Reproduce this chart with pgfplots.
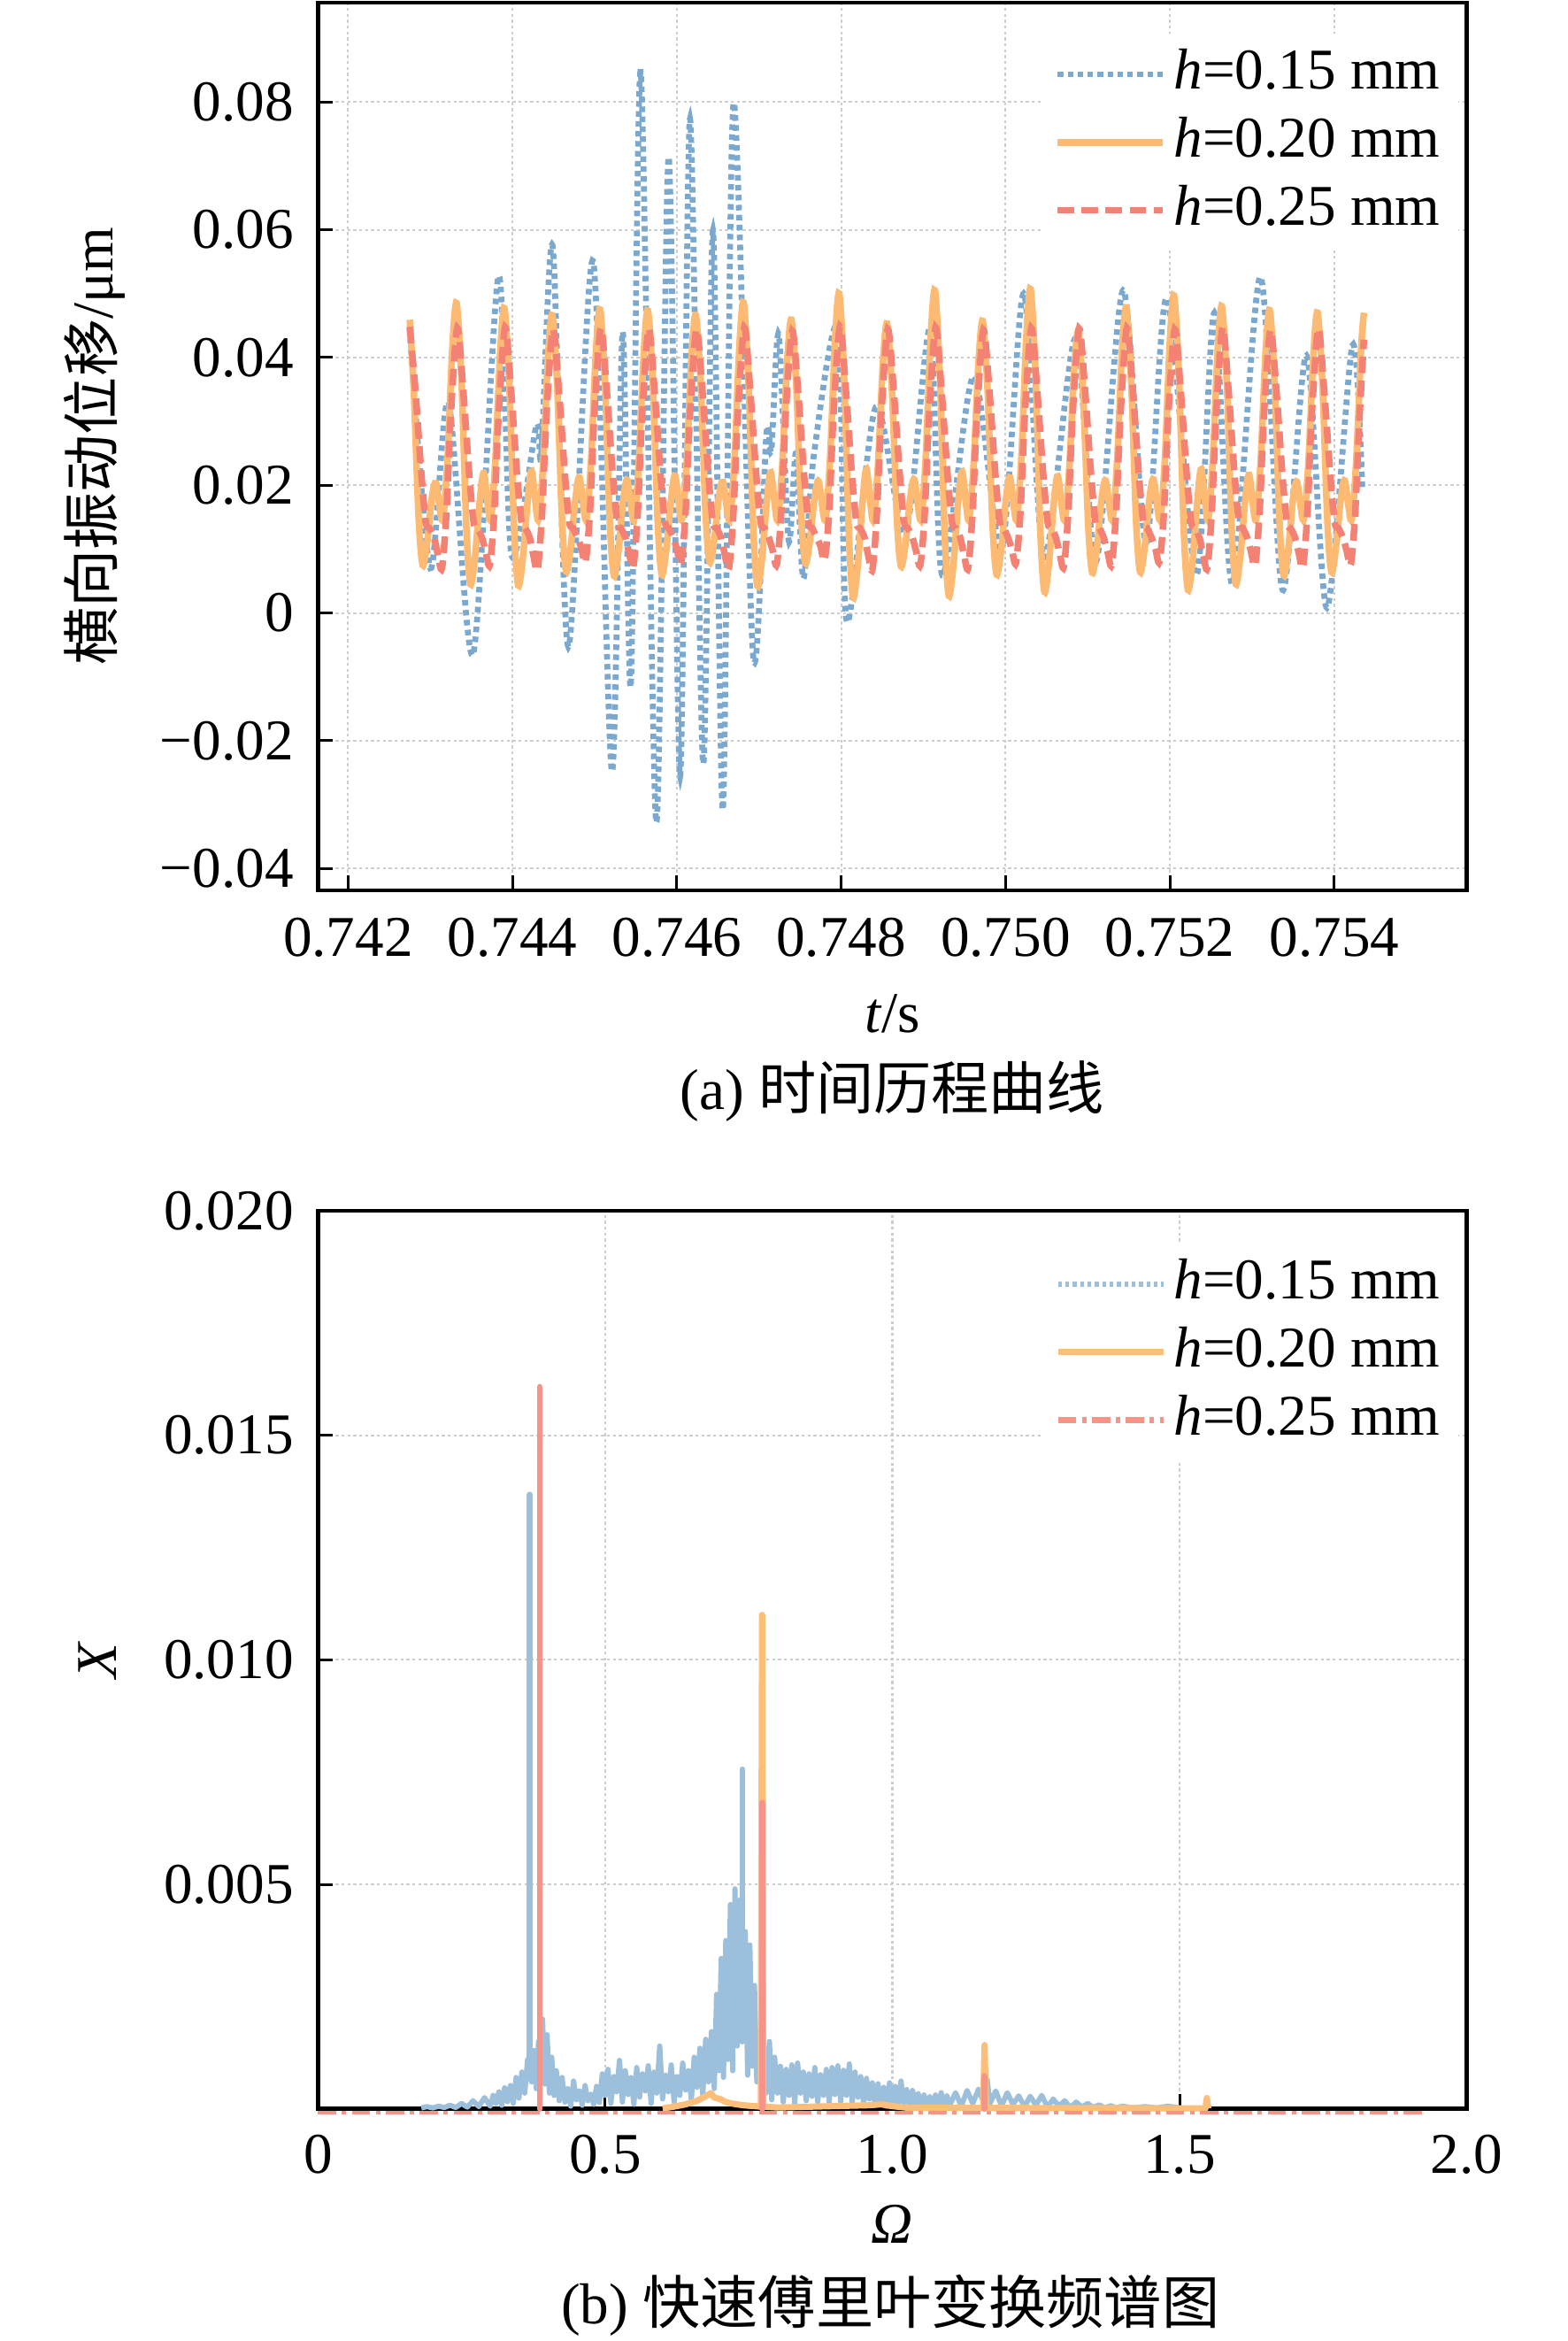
\documentclass[border=0pt]{standalone}
\usepackage{pgfplots}
\pgfplotsset{compat=1.18}
\usepackage{fontspec}
\setmainfont{Liberation Serif}
\newfontfamily\cjk{Noto Sans CJK SC}
\definecolor{cB}{RGB}{122,168,206}
\definecolor{cO}{RGB}{253,186,114}
\definecolor{cR}{RGB}{244,130,116}
\definecolor{cB2}{RGB}{156,191,220}
\definecolor{cO2}{RGB}{253,190,122}
\definecolor{cR2}{RGB}{246,148,136}
\definecolor{gridc}{RGB}{205,205,205}
\pgfplotsset{
 layers/mylayers/.define layer set={axis background,axis grid,pre main,main,axis ticks,axis lines,axis tick labels,axis descriptions,axis foreground}{},
 myaxis/.style={
  set layers=mylayers,
  scale only axis, width=311.6bp,
  axis line style={line width=1.1bp, black},
  tick align=inside, xtick pos=bottom, ytick pos=left,
  major tick length=4bp, tick style={black, line width=0.7bp},
  grid=major, major grid style={gridc, line width=0.5bp, dash pattern=on 0.8bp off 0.8bp},
  scaled ticks=false,
  legend style={at={(axis description cs:1,1)}, anchor=north east, xshift=-2bp, draw=none, fill=white, inner xsep=3bp, inner ysep=4bp, row sep=4.4bp, nodes={inner xsep=2bp, inner ysep=0bp, text height=11bp, text depth=3bp}},
  legend cell align=left,
  legend image code/.code={\draw[#1] (0bp,0bp) -- (28.6bp,0bp);},
 },
}
\begin{document}
\fontsize{15.7pt}{18pt}\selectfont
\begin{tikzpicture}
\begin{axis}[myaxis, at={(86.23bp,393.4bp)}, anchor=south west, height=240.7bp,
 xmin=741.633, xmax=755.612, ymin=-0.04341, ymax=0.09557,
 xtick={742,744,746,748,750,752,754}, xticklabels={0.742,0.744,0.746,0.748,0.750,0.752,0.754},
 ytick={-0.04,-0.02,0,0.02,0.04,0.06,0.08}, yticklabels={−0.04,−0.02,0,0.02,0.04,0.06,0.08},
 xticklabel style={yshift=-2.2bp}, yticklabel style={xshift=-1.2bp},
 xlabel={\textit{t}/s}, ylabel={{\cjk 横向振动位移}/μm},
 xlabel style={at={(axis description cs:0.5,-0.1396)}, anchor=center},
 ylabel style={at={(axis description cs:-0.1942,0.5)}, anchor=center},
 legend style={yshift=-8.3bp},
]
\addplot[cB, line width=1.6bp, dash pattern=on 1.5bp off 1.2bp, smooth] coordinates {
(742.75,0.0444) (743.00,0.0070) (743.22,0.0330) (743.52,-0.0065) (743.83,0.0527) (743.99,0.0090) (744.29,0.0293) (744.35,0.0250) (744.49,0.0573) (744.68,-0.0053) (744.98,0.0551) (745.21,-0.0248) (745.34,0.0440) (745.44,-0.0113) (745.56,0.0847) (745.75,-0.0328) (745.90,0.0714) (746.04,-0.0256) (746.16,0.0774) (746.32,-0.0236) (746.44,0.0599) (746.56,-0.0308) (746.69,0.0798) (746.93,-0.0069) (747.09,0.0280) (747.15,0.0255) (747.24,0.0436) (747.36,0.0114) (747.45,0.0250) (747.54,0.0054) (747.67,0.0250) (747.96,0.0446) (748.07,-0.0014) (748.42,0.0322) (748.78,0.0124) (749.08,0.0445) (749.23,0.0059) (749.61,0.0371) (749.95,0.0100) (750.22,0.0500) (750.47,0.0087) (750.85,0.0430) (751.10,0.0080) (751.43,0.0505) (751.71,0.0110) (751.96,0.0493) (752.32,0.0059) (752.54,0.0470) (752.76,0.0045) (753.10,0.0526) (753.37,0.0036) (753.66,0.0403) (753.91,0.0008) (754.22,0.0419) (754.34,0.0193)
};
\addlegendentry{\textit{h}=0.15 mm}
\addplot[cO, line width=1.8bp, smooth] coordinates {
(742.75,0.0459) (742.798,0.0352) (742.858,0.0150) (742.907,0.0075) (742.963,0.0111) (743.018,0.0179) (743.070,0.0203) (743.148,0.0145) (743.208,0.0237) (743.268,0.0414)
(743.320,0.0485) (743.380,0.0363) (743.440,0.0130) (743.489,0.0045) (743.545,0.0089) (743.600,0.0172) (743.652,0.0219) (743.730,0.0145) (743.790,0.0235) (743.850,0.0407)
(743.902,0.0477) (743.962,0.0356) (744.022,0.0127) (744.071,0.0043) (744.127,0.0087) (744.182,0.0171) (744.234,0.0222) (744.312,0.0145) (744.372,0.0232) (744.432,0.0399)
(744.484,0.0466) (744.544,0.0355) (744.604,0.0143) (744.653,0.0065) (744.709,0.0103) (744.764,0.0176) (744.816,0.0212) (744.894,0.0145) (744.954,0.0234) (745.014,0.0406)
(745.066,0.0475) (745.126,0.0359) (745.186,0.0139) (745.235,0.0058) (745.291,0.0098) (745.346,0.0175) (745.398,0.0208) (745.476,0.0145) (745.536,0.0234) (745.596,0.0404)
(745.648,0.0473) (745.708,0.0358) (745.768,0.0140) (745.817,0.0060) (745.873,0.0100) (745.928,0.0175) (745.980,0.0215) (746.058,0.0145) (746.118,0.0232) (746.178,0.0399)
(746.230,0.0466) (746.290,0.0359) (746.350,0.0155) (746.399,0.0080) (746.455,0.0114) (746.510,0.0180) (746.562,0.0205) (746.640,0.0145) (746.700,0.0237) (746.760,0.0414)
(746.812,0.0486) (746.872,0.0363) (746.932,0.0128) (746.981,0.0042) (747.037,0.0086) (747.092,0.0171) (747.144,0.0220) (747.222,0.0145) (747.282,0.0230) (747.342,0.0393)
(747.394,0.0459) (747.454,0.0353) (747.514,0.0152) (747.563,0.0078) (747.619,0.0113) (747.674,0.0179) (747.726,0.0206) (747.804,0.0145) (747.864,0.0241) (747.924,0.0425)
(747.976,0.0500) (748.036,0.0368) (748.096,0.0116) (748.145,0.0024) (748.201,0.0073) (748.256,0.0167) (748.308,0.0225) (748.386,0.0145) (748.446,0.0228) (748.506,0.0388)
(748.558,0.0453) (748.618,0.0347) (748.678,0.0147) (748.727,0.0073) (748.783,0.0109) (748.838,0.0178) (748.890,0.0209) (748.968,0.0145) (749.028,0.0243) (749.088,0.0429)
(749.140,0.0505) (749.200,0.0372) (749.260,0.0120) (749.309,0.0027) (749.365,0.0075) (749.420,0.0168) (749.472,0.0221) (749.550,0.0145) (749.610,0.0230) (749.670,0.0391)
(749.722,0.0457) (749.782,0.0347) (749.842,0.0137) (749.891,0.0060) (749.947,0.0100) (750.002,0.0175) (750.054,0.0212) (750.132,0.0145) (750.192,0.0243) (750.252,0.0431)
(750.304,0.0507) (750.364,0.0375) (750.424,0.0125) (750.473,0.0033) (750.529,0.0080) (750.584,0.0169) (750.636,0.0214) (750.714,0.0145) (750.774,0.0225) (750.834,0.0379)
(750.886,0.0441) (750.946,0.0336) (751.006,0.0136) (751.055,0.0063) (751.111,0.0102) (751.166,0.0176) (751.218,0.0207) (751.296,0.0145) (751.356,0.0235) (751.416,0.0408)
(751.468,0.0478) (751.528,0.0363) (751.588,0.0144) (751.637,0.0064) (751.693,0.0103) (751.748,0.0176) (751.800,0.0209) (751.878,0.0145) (751.938,0.0240) (751.998,0.0423)
(752.050,0.0497) (752.110,0.0369) (752.170,0.0125) (752.219,0.0036) (752.275,0.0082) (752.330,0.0170) (752.382,0.0225) (752.460,0.0145) (752.520,0.0236) (752.580,0.0410)
(752.632,0.0480) (752.692,0.0359) (752.752,0.0129) (752.801,0.0045) (752.857,0.0089) (752.912,0.0172) (752.964,0.0216) (753.042,0.0145) (753.102,0.0234) (753.162,0.0405)
(753.214,0.0474) (753.274,0.0359) (753.334,0.0140) (753.383,0.0059) (753.439,0.0099) (753.494,0.0175) (753.546,0.0205) (753.624,0.0145) (753.684,0.0233) (753.744,0.0402)
(753.796,0.0470) (753.856,0.0357) (753.916,0.0143) (753.965,0.0064) (754.021,0.0103) (754.076,0.0176) (754.128,0.0207) (754.206,0.0145) (754.266,0.0237) (754.326,0.0413) (754.36,0.0470)
};
\addlegendentry{\textit{h}=0.20 mm}
\addplot[cR, line width=1.8bp, dash pattern=on 4.5bp off 2bp, smooth] coordinates {
(742.75,0.0448) (742.818,0.0350) (742.890,0.0220) (742.946,0.0142) (742.991,0.0133) (743.046,0.0118) (743.091,0.0092) (743.142,0.0070) (743.196,0.0156) (743.250,0.0310)
(743.328,0.0446) (743.400,0.0350) (743.472,0.0220) (743.528,0.0142) (743.573,0.0133) (743.628,0.0118) (743.673,0.0097) (743.724,0.0075) (743.778,0.0156) (743.832,0.0310)
(743.910,0.0447) (743.982,0.0350) (744.054,0.0220) (744.110,0.0142) (744.155,0.0133) (744.210,0.0118) (744.255,0.0090) (744.306,0.0068) (744.360,0.0156) (744.414,0.0310)
(744.492,0.0444) (744.564,0.0350) (744.636,0.0220) (744.692,0.0142) (744.737,0.0133) (744.792,0.0118) (744.837,0.0102) (744.888,0.0080) (744.942,0.0156) (744.996,0.0310)
(745.074,0.0446) (745.146,0.0350) (745.218,0.0220) (745.274,0.0142) (745.319,0.0133) (745.374,0.0118) (745.419,0.0094) (745.470,0.0072) (745.524,0.0156) (745.578,0.0310)
(745.656,0.0445) (745.728,0.0350) (745.800,0.0220) (745.856,0.0142) (745.901,0.0133) (745.956,0.0118) (746.001,0.0100) (746.052,0.0078) (746.106,0.0156) (746.160,0.0310)
(746.238,0.0444) (746.310,0.0350) (746.382,0.0220) (746.438,0.0142) (746.483,0.0133) (746.538,0.0118) (746.583,0.0092) (746.634,0.0070) (746.688,0.0156) (746.742,0.0310)
(746.820,0.0447) (746.892,0.0350) (746.964,0.0220) (747.020,0.0142) (747.065,0.0133) (747.120,0.0118) (747.165,0.0098) (747.216,0.0076) (747.270,0.0156) (747.324,0.0310)
(747.402,0.0442) (747.474,0.0350) (747.546,0.0220) (747.602,0.0142) (747.647,0.0133) (747.702,0.0118) (747.747,0.0105) (747.798,0.0083) (747.852,0.0156) (747.906,0.0310)
(747.984,0.0448) (748.056,0.0350) (748.128,0.0220) (748.184,0.0142) (748.229,0.0133) (748.284,0.0118) (748.329,0.0090) (748.380,0.0068) (748.434,0.0156) (748.488,0.0310)
(748.566,0.0444) (748.638,0.0350) (748.710,0.0220) (748.766,0.0142) (748.811,0.0133) (748.866,0.0118) (748.911,0.0097) (748.962,0.0075) (749.016,0.0156) (749.070,0.0310)
(749.148,0.0447) (749.220,0.0350) (749.292,0.0220) (749.348,0.0142) (749.393,0.0133) (749.448,0.0118) (749.493,0.0092) (749.544,0.0070) (749.598,0.0156) (749.652,0.0310)
(749.730,0.0443) (749.802,0.0350) (749.874,0.0220) (749.930,0.0142) (749.975,0.0133) (750.030,0.0118) (750.075,0.0100) (750.126,0.0078) (750.180,0.0156) (750.234,0.0310)
(750.312,0.0446) (750.384,0.0350) (750.456,0.0220) (750.512,0.0142) (750.557,0.0133) (750.612,0.0118) (750.657,0.0094) (750.708,0.0072) (750.762,0.0156) (750.816,0.0310)
(750.894,0.0445) (750.966,0.0350) (751.038,0.0220) (751.094,0.0142) (751.139,0.0133) (751.194,0.0118) (751.239,0.0097) (751.290,0.0075) (751.344,0.0156) (751.398,0.0310)
(751.476,0.0446) (751.548,0.0350) (751.620,0.0220) (751.676,0.0142) (751.721,0.0133) (751.776,0.0118) (751.821,0.0102) (751.872,0.0080) (751.926,0.0156) (751.980,0.0310)
(752.058,0.0444) (752.130,0.0350) (752.202,0.0220) (752.258,0.0142) (752.303,0.0133) (752.358,0.0118) (752.403,0.0092) (752.454,0.0070) (752.508,0.0156) (752.562,0.0310)
(752.640,0.0447) (752.712,0.0350) (752.784,0.0220) (752.840,0.0142) (752.885,0.0133) (752.940,0.0118) (752.985,0.0097) (753.036,0.0075) (753.090,0.0156) (753.144,0.0310)
(753.222,0.0443) (753.294,0.0350) (753.366,0.0220) (753.422,0.0142) (753.467,0.0133) (753.522,0.0118) (753.567,0.0094) (753.618,0.0072) (753.672,0.0156) (753.726,0.0310)
(753.804,0.0445) (753.876,0.0350) (753.948,0.0220) (754.004,0.0142) (754.049,0.0133) (754.104,0.0118) (754.149,0.0098) (754.200,0.0076) (754.254,0.0156) (754.308,0.0310) (754.36,0.0428)
};
\addlegendentry{\textit{h}=0.25 mm}
\end{axis}
\begin{axis}[myaxis, at={(86.23bp,62.95bp)}, anchor=south west, height=243.5bp, clip=false,
 xmin=0, xmax=2, ymin=0, ymax=0.02,
 xtick={0,0.5,1,1.5,2}, xticklabels={0,0.5,1.0,1.5,2.0},
 ytick={0.005,0.01,0.015,0.02}, yticklabels={0.005,0.010,0.015,0.020},
 xticklabel style={yshift=-1.7bp}, yticklabel style={xshift=-1.2bp},
 xlabel={\textit{Ω}}, ylabel={\textit{X}},
 xlabel style={at={(axis description cs:0.5,-0.1285)}, anchor=center},
 ylabel style={at={(axis description cs:-0.1917,0.5)}, anchor=center},
 legend style={yshift=-8.7bp},
]
\addlegendimage{cB2, line width=1.5bp, dash pattern=on 1.1bp off 0.9bp}
\addlegendentry{\textit{h}=0.15 mm}
\addplot[cB2, line width=1.4bp, line join=round, forget plot] coordinates {
(0.180,0.00002) (0.190,0.00005) (0.200,0.00002) (0.210,0.00006) (0.220,0.00003) (0.230,0.00008) (0.240,0.00003) (0.250,0.00012) (0.260,0.00004) (0.270,0.00018) (0.280,0.00005) (0.290,0.00025) (0.300,0.00006) (0.305,0.00030) (0.310,0.00012) (0.315,0.00038) (0.320,0.00008) (0.325,0.00047) (0.330,0.00016) (0.335,0.00052) (0.340,0.00012) (0.345,0.00070) (0.350,0.00024) (0.355,0.00082) (0.360,0.00035) (0.365,0.00110) (0.3687,0.00080) (0.372,0.00060) (0.376,0.00130) (0.380,0.00045) (0.384,0.00150) (0.388,0.00070) (0.391,0.00200) (0.395,0.00055) (0.399,0.00165) (0.403,0.00035) (0.407,0.00115) (0.411,0.00030) (0.415,0.00085) (0.420,0.00018) (0.425,0.00070) (0.430,0.00015) (0.435,0.00045) (0.440,0.00006) (0.445,0.00062) (0.450,0.00020) (0.455,0.00040) (0.460,0.00008) (0.465,0.00052) (0.470,0.00018) (0.475,0.00033) (0.480,0.00010) (0.485,0.00050) (0.490,0.00014) (0.495,0.00078) (0.500,0.00030) (0.505,0.00088) (0.510,0.00012) (0.515,0.00072) (0.520,0.00038) (0.525,0.00108) (0.530,0.00015) (0.535,0.00085) (0.540,0.00032) (0.545,0.00070) (0.550,0.00010) (0.555,0.00092) (0.560,0.00026) (0.565,0.00078) (0.570,0.00040) (0.575,0.00096) (0.580,0.00012) (0.585,0.00082) (0.590,0.00035) (0.595,0.00140) (0.600,0.00022) (0.605,0.00075) (0.610,0.00038) (0.615,0.00098) (0.620,0.00015) (0.625,0.00072) (0.630,0.00030) (0.635,0.00102) (0.640,0.00042) (0.645,0.00085) (0.650,0.00020) (0.655,0.00115) (0.660,0.00048) (0.665,0.00135) (0.670,0.00030) (0.675,0.00155) (0.680,0.00060) (0.685,0.00172) (0.690,0.00045) (0.694,0.00255) (0.698,0.00085) (0.702,0.00335) (0.706,0.00070) (0.710,0.00375) (0.714,0.00110) (0.718,0.00455) (0.722,0.00085) (0.726,0.00490) (0.730,0.00140) (0.734,0.00465) (0.7387,0.00150) (0.744,0.00395) (0.748,0.00075) (0.752,0.00365) (0.756,0.00095) (0.760,0.00275) (0.764,0.00060) (0.768,0.00165) (0.772,0.00045) (0.776,0.00125) (0.780,0.00035) (0.786,0.00150) (0.790,0.00020) (0.795,0.00115) (0.800,0.00035) (0.805,0.00095) (0.810,0.00015) (0.815,0.00088) (0.820,0.00030) (0.825,0.00098) (0.830,0.00012) (0.835,0.00102) (0.840,0.00035) (0.845,0.00082) (0.850,0.00018) (0.855,0.00078) (0.860,0.00028) (0.865,0.00092) (0.870,0.00015) (0.875,0.00076) (0.880,0.00030) (0.885,0.00088) (0.890,0.00014) (0.895,0.00092) (0.900,0.00032) (0.905,0.00096) (0.910,0.00016) (0.915,0.00086) (0.920,0.00030) (0.925,0.00100) (0.930,0.00014) (0.935,0.00082) (0.940,0.00026) (0.945,0.00072) (0.950,0.00010) (0.955,0.00068) (0.960,0.00022) (0.965,0.00058) (0.970,0.00008) (0.975,0.00056) (0.980,0.00018) (0.985,0.00048) (0.990,0.00006) (0.995,0.00058) (1.000,0.00016) (1.005,0.00050) (1.010,0.00006) (1.015,0.00062) (1.020,0.00014) (1.025,0.00043) (1.030,0.00005) (1.035,0.00041) (1.040,0.00012) (1.045,0.00034) (1.050,0.00005) (1.055,0.00031) (1.060,0.00010) (1.065,0.00027) (1.070,0.00004) (1.075,0.00031) (1.080,0.00009) (1.085,0.00036) (1.090,0.00004) (1.095,0.00029) (1.100,0.00008) (1.110,0.00036) (1.120,0.00006) (1.130,0.00041) (1.140,0.00012) (1.150,0.00044) (1.160,0.00010) (1.165,0.00065) (1.170,0.00012) (1.180,0.00040) (1.190,0.00006) (1.200,0.00036) (1.210,0.00010) (1.220,0.00029) (1.230,0.00005) (1.240,0.00028) (1.250,0.00008) (1.260,0.00030) (1.270,0.00004) (1.280,0.00022) (1.290,0.00006) (1.300,0.00018) (1.310,0.00003) (1.320,0.00015) (1.330,0.00004) (1.340,0.00012) (1.350,0.00003) (1.360,0.00009) (1.370,0.00002) (1.380,0.00007) (1.390,0.00002) (1.400,0.00006) (1.420,0.00002) (1.440,0.00005) (1.460,0.00002) (1.480,0.00006) (1.500,0.00002)
};
\addplot[cB2, line width=1.6bp, line cap=round, forget plot] coordinates {
(0.3687,0.00080) (0.3687,0.01368)
};
\addplot[cB2, line width=1.6bp, line cap=round, forget plot] coordinates {
(0.7387,0.00150) (0.7387,0.00756)
};
\addplot[cO2, line width=1.7bp, line join=round] coordinates {
(0.60,0.00001) (0.62,0.00005) (0.64,0.00010) (0.66,0.00018) (0.675,0.00028) (0.684,0.00035) (0.690,0.00025) (0.70,0.00022) (0.71,0.00015) (0.72,0.00012) (0.74,0.00008) (0.76,0.00006) (0.771,0.00005) (0.7732,0.0110) (0.7752,0.00005) (0.80,0.00003) (0.96,0.00008) (0.98,0.00010) (1.00,0.00006) (1.03,0.00002) (1.158,0.00002) (1.1605,0.00142) (1.163,0.00002) (1.545,0.00001) (1.5475,0.00024) (1.550,0.00001)
};
\addlegendentry{\textit{h}=0.20 mm}
\addlegendimage{cR2, line width=1.7bp, dash pattern=on 5bp off 1.5bp on 1.2bp off 1.5bp}
\addlegendentry{\textit{h}=0.25 mm}
\addplot[cR2, line width=0.9bp, yshift=-0.95bp, dash pattern=on 5bp off 1.5bp on 1.2bp off 1.5bp, forget plot] coordinates {
(0,0) (1.93,0)
};
\addplot[cR2, line width=1.6bp, line cap=round, forget plot] coordinates {(0.386,0) (0.386,0.01608)};
\addplot[cR2, line width=1.6bp, line cap=round, forget plot] coordinates {(0.7732,0) (0.7732,0.00682)};
\addplot[cR2, line width=1.6bp, line cap=round, forget plot] coordinates {(1.1605,0) (1.1605,0.00073)};
\end{axis}
\node at (242bp,338.9bp) {(a) {\cjk 时间历程曲线}};
\node at (241.5bp,9.55bp) {(b) {\cjk 快速傅里叶变换频谱图}};
\pgfresetboundingbox
\path[use as bounding box] (0,0) rectangle (425.28bp,634.8bp);
\end{tikzpicture}
\end{document}
